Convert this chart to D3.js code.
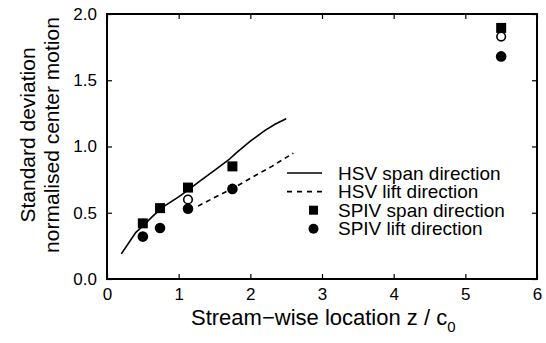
<!DOCTYPE html>
<html>
<head>
<meta charset="utf-8">
<script src="https://cdn.jsdelivr.net/npm/d3@7/dist/d3.min.js"></script>
<style>
  body { margin: 0; background: #fff; }
  svg { display: block; }
  text { font-family: "Liberation Sans", Arial, Helvetica, sans-serif; fill: #000; }
</style>
</head>
<body>
<div id="chart"></div>
<script>
// HSV curves
var hsvSpanX = [0.2, 0.3, 0.4, 0.5, 0.65, 0.8, 1.0, 1.13, 1.3, 1.5, 1.7, 1.8, 2.0, 2.2, 2.35, 2.5];
var hsvSpanY = [0.19, 0.27, 0.35, 0.40, 0.48, 0.55, 0.62, 0.67, 0.74, 0.82, 0.90, 0.95, 1.04, 1.12, 1.17, 1.21];
var hsvLiftX = [1.27, 1.5, 1.76, 2.0, 2.3, 2.6];
var hsvLiftY = [0.55, 0.615, 0.685, 0.76, 0.85, 0.95];

// SPIV points
var spivX = [0.5, 0.74, 1.13, 1.75, 5.5];
var spivSpan = [0.42, 0.535, 0.69, 0.85, 1.895];
var spivLift = [0.32, 0.385, 0.53, 0.68, 1.68];
// open circles (not in legend)
var openX = [1.13, 5.5];
var openY = [0.60, 1.83];

var xTicks = [0, 1, 2, 3, 4, 5, 6];
var yTicks = [0, 0.5, 1.0, 1.5, 2.0];

var legendItems = [
  {label: "HSV span direction", kind: "solid"},
  {label: "HSV lift direction", kind: "dash"},
  {label: "SPIV span direction", kind: "square"},
  {label: "SPIV lift direction", kind: "circle"}
];

var width = 546, height = 343;
var margin = {left: 107, right: 9, top: 14, bottom: 64};

var svg = d3.select("#chart").append("svg")
    .attr("width", width)
    .attr("height", height);

var x = d3.scaleLinear().domain([0, 6]).range([margin.left, width - margin.right]);
var y = d3.scaleLinear().domain([0, 2]).range([height - margin.bottom, margin.top]);

var tickLen = 5;

// ticks (inward, all four sides)
svg.append("g")
    .attr("transform", "translate(0," + y(0) + ")")
    .call(d3.axisBottom(x).tickValues(xTicks).tickSize(-tickLen).tickPadding(9).tickFormat(d3.format("d")))
    .call(g => g.select(".domain").remove());
svg.append("g")
    .attr("transform", "translate(0," + y(2) + ")")
    .call(d3.axisTop(x).tickValues(xTicks).tickSize(-tickLen).tickFormat(""))
    .call(g => g.select(".domain").remove());
svg.append("g")
    .attr("transform", "translate(" + x(0) + ",0)")
    .call(d3.axisLeft(y).tickValues(yTicks).tickSize(-tickLen).tickPadding(10).tickFormat(d3.format(".1f")))
    .call(g => g.select(".domain").remove());
svg.append("g")
    .attr("transform", "translate(" + x(6) + ",0)")
    .call(d3.axisRight(y).tickValues(yTicks).tickSize(-tickLen).tickFormat(""))
    .call(g => g.select(".domain").remove());

svg.selectAll(".tick line").attr("stroke", "#000").attr("stroke-width", 1.2);
svg.selectAll(".tick text").style("font-size", "17px").attr("fill", "#000");

// frame
svg.append("rect")
    .attr("x", x(0)).attr("y", y(2))
    .attr("width", x(6) - x(0)).attr("height", y(0) - y(2))
    .attr("fill", "none").attr("stroke", "#000").attr("stroke-width", 2);

var line = d3.line().x(d => x(d[0])).y(d => y(d[1]));

svg.append("path")
    .datum(d3.zip(hsvSpanX, hsvSpanY))
    .attr("d", line)
    .attr("fill", "none").attr("stroke", "#000").attr("stroke-width", 1.6);

svg.append("path")
    .datum(d3.zip(hsvLiftX, hsvLiftY))
    .attr("d", line)
    .attr("fill", "none").attr("stroke", "#000").attr("stroke-width", 1.6)
    .attr("stroke-dasharray", "5,4");

var sq = 10;
svg.selectAll(".sq").data(d3.zip(spivX, spivSpan)).enter().append("rect")
    .attr("x", d => x(d[0]) - sq / 2)
    .attr("y", d => y(d[1]) - sq / 2)
    .attr("width", sq).attr("height", sq)
    .attr("fill", "#000");

svg.selectAll(".ci").data(d3.zip(spivX, spivLift)).enter().append("circle")
    .attr("cx", d => x(d[0])).attr("cy", d => y(d[1])).attr("r", 5.3)
    .attr("fill", "#000");

svg.selectAll(".oc").data(d3.zip(openX, openY)).enter().append("circle")
    .attr("cx", d => x(d[0])).attr("cy", d => y(d[1])).attr("r", 4.3)
    .attr("fill", "#fff").attr("stroke", "#000").attr("stroke-width", 1.6);

// legend
var lg = svg.append("g").attr("transform", "translate(287,173)");
legendItems.forEach(function (d, i) {
  var row = lg.append("g").attr("transform", "translate(0," + (i * 18.6) + ")");
  if (d.kind === "solid" || d.kind === "dash") {
    row.append("line").attr("x1", 0).attr("x2", 35).attr("y1", 0).attr("y2", 0)
      .attr("stroke", "#000").attr("stroke-width", 1.6)
      .attr("stroke-dasharray", d.kind === "dash" ? "5,5" : null);
  } else if (d.kind === "square") {
    row.append("rect").attr("x", 22).attr("y", -4.5).attr("width", 9).attr("height", 9).attr("fill", "#000");
  } else {
    row.append("circle").attr("cx", 26.5).attr("cy", 0).attr("r", 5).attr("fill", "#000");
  }
  row.append("text").attr("x", 51).attr("y", 6.5).style("font-size", "19px").text(d.label);
});

// axis labels
var xl = svg.append("text")
    .attr("x", 191).attr("y", 325)
    .style("font-size", "22px");
xl.append("tspan").text("Stream\u2212wise location z / c");
xl.append("tspan").attr("dy", 7).style("font-size", "15px").text("0");

var yl = svg.append("text")
    .attr("transform", "translate(" + 35 + "," + 135 + ") rotate(-90)")
    .attr("text-anchor", "middle")
    .style("font-size", "21px");
yl.append("tspan").attr("x", 0).attr("y", 0).text("Standard deviation");
yl.append("tspan").attr("x", 0).attr("y", 24).text("normalised center motion");
</script>
</body>
</html>
